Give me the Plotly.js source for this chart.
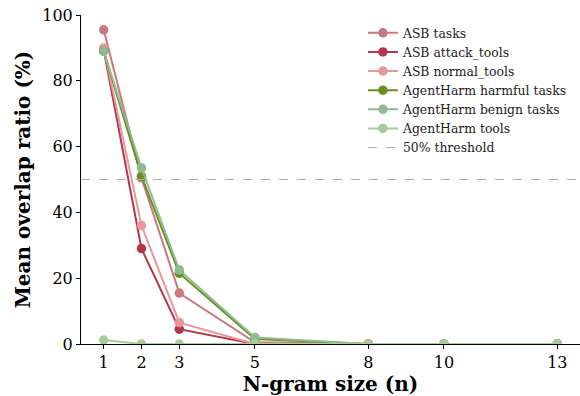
<!DOCTYPE html>
<html>
<head>
<meta charset="utf-8">
<script src="https://cdn.plot.ly/plotly-3.0.1.min.js"></script>
<style>html,body{margin:0;padding:0;background:#fff}#chart{width:580px;height:396px}</style>
</head>
<body>
<div id="chart"></div>
<script>
const ngram = [1, 2, 3, 5, 8, 10, 13];
const asbTasks = [95.5, 50.5, 15.5, 0.5, 0, 0, 0];
const asbAttackTools = [89.5, 29, 4.5, 0, 0, 0, 0];
const asbNormalTools = [90, 36, 6.5, 0, 0, 0, 0];
const ahHarmfulTasks = [89, 51, 21.5, 1.5, 0, 0, 0];
const ahBenignTasks = [89, 53.5, 22.5, 2, 0, 0, 0];
const ahTools = [1.2, 0, 0, 0, 0, 0, 0];
const threshold = 50;
const seriesNames = ["ASB tasks", "ASB attack_tools", "ASB normal_tools", "AgentHarm harmful tasks", "AgentHarm benign tasks", "AgentHarm tools"];
const seriesValues = [asbTasks, asbAttackTools, asbNormalTools, ahHarmfulTasks, ahBenignTasks, ahTools];
const colors = ["#c97880", "#b3364a", "#e8979d", "#6b8e23", "#8fbc8f", "#a8cc98"];
const xRange = [0.4, 13.6];

const traces = seriesNames.map((name, i) => ({
  x: ngram, y: seriesValues[i], name: name, type: "scatter", mode: "lines+markers",
  line: {color: colors[i], width: 2},
  marker: {color: colors[i], size: 9.5},
}));
traces.push({
  x: xRange, y: [threshold, threshold], name: "50% threshold", type: "scatter", mode: "lines",
  line: {color: "#aaaaaa", width: 1, dash: "dash"}, hoverinfo: "skip"
});

const font = "DejaVu Serif, serif";
const layout = {
  width: 580, height: 396,
  margin: {l: 81, r: 0, t: 15, b: 52},
  paper_bgcolor: "#fff", plot_bgcolor: "#fff",
  font: {family: font, color: "#000", size: 16},
  showlegend: true,
  legend: {x: 0.565, y: 0.99, xanchor: "left", yanchor: "top", bgcolor: "rgba(0,0,0,0)",
           font: {family: font, size: 12.4, color: "#222"}, tracegroupgap: 0},
  xaxis: {
    range: xRange, tickmode: "array", tickvals: ngram, ticktext: ngram.map(String),
    showgrid: false, zeroline: false, showline: true, linecolor: "#000", linewidth: 1,
    ticks: "outside", ticklen: 4, tickcolor: "#000", tickfont: {family: font, size: 16},
    title: {text: "<b>N-gram size (n)</b>", font: {family: font, size: 20}, standoff: 5}
  },
  yaxis: {
    range: [0, 100], tickmode: "linear", tick0: 0, dtick: 20,
    showgrid: false, zeroline: false, showline: true, linecolor: "#000", linewidth: 1,
    ticks: "outside", ticklen: 4, tickcolor: "#000", tickfont: {family: font, size: 16},
    title: {text: "<b>Mean overlap ratio (%)</b>", font: {family: font, size: 20}, standoff: 6}
  }
};
Plotly.newPlot("chart", traces, layout, {displayModeBar: false, staticPlot: true});
</script>
</body>
</html>
